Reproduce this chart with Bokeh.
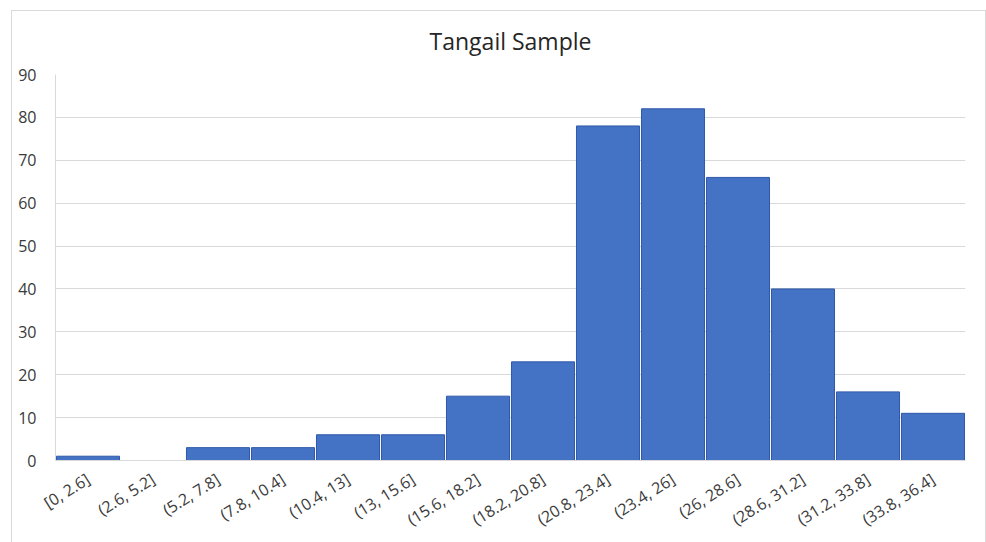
from bokeh.plotting import figure
from bokeh.models import FactorRange, Range1d, ColumnDataSource, SingleIntervalTicker
from bokeh.embed import file_html
from bokeh.resources import INLINE

# Histogram bins and counts
bins = ["[0, 2.6]", "(2.6, 5.2]", "(5.2, 7.8]", "(7.8, 10.4]", "(10.4, 13]",
        "(13, 15.6]", "(15.6, 18.2]", "(18.2, 20.8]", "(20.8, 23.4]", "(23.4, 26]",
        "(26, 28.6]", "(28.6, 31.2]", "(31.2, 33.8]", "(33.8, 36.4]"]
counts = [1, 0, 3, 3, 6, 6, 15, 23, 78, 82, 66, 40, 16, 11]

source = ColumnDataSource(data=dict(bins=bins, counts=counts))

p = figure(
    x_range=FactorRange(*bins, range_padding=0),
    y_range=Range1d(0, 90),
    width=986, height=542,
    output_backend="svg", toolbar_location=None,
    min_border_left=55, min_border_right=21,
    min_border_top=74, min_border_bottom=82,
    title="Tangail Sample",
)

# light grey chart-area frame, drawn as thin CSS lines behind a transparent canvas
line = "linear-gradient(#d9d9d9, #d9d9d9)"
p.styles = {
    "background": (
        f"{line} 11px 10px / 975px 1px no-repeat, "
        f"{line} 11px 10px / 1px 532px no-repeat, "
        f"{line} 985px 10px / 1px 532px no-repeat, "
        "white"
    )
}
p.border_fill_color = None
p.background_fill_color = "white"
p.outline_line_color = None

p.title.align = "center"
p.title.text_font = "Open Sans"
p.title.text_font_size = "23px"
p.title.text_font_style = "normal"
p.title.text_color = "#262626"
p.title.offset = 0
p.title.standoff = 36

p.vbar(x="bins", top="counts", width=0.97, source=source,
       fill_color="#4472C4", line_color="#2f58a8", line_width=1)

p.xgrid.grid_line_color = None
p.ygrid.grid_line_color = "#d9d9d9"
p.ygrid.grid_line_width = 1

p.yaxis.ticker = SingleIntervalTicker(interval=10)
for ax in (p.xaxis, p.yaxis):
    ax.axis_line_color = "#d9d9d9"
    ax.major_tick_line_color = None
    ax.minor_tick_line_color = None
    ax.major_label_text_font = "Open Sans"
    ax.major_label_text_font_size = "16px"
    ax.major_label_text_color = "#3a3a3a"

p.yaxis.major_label_standoff = 13
p.xaxis.major_label_standoff = 11
p.xaxis.major_label_orientation = 0.56

open("out.html", "w").write(file_html(p, INLINE))
